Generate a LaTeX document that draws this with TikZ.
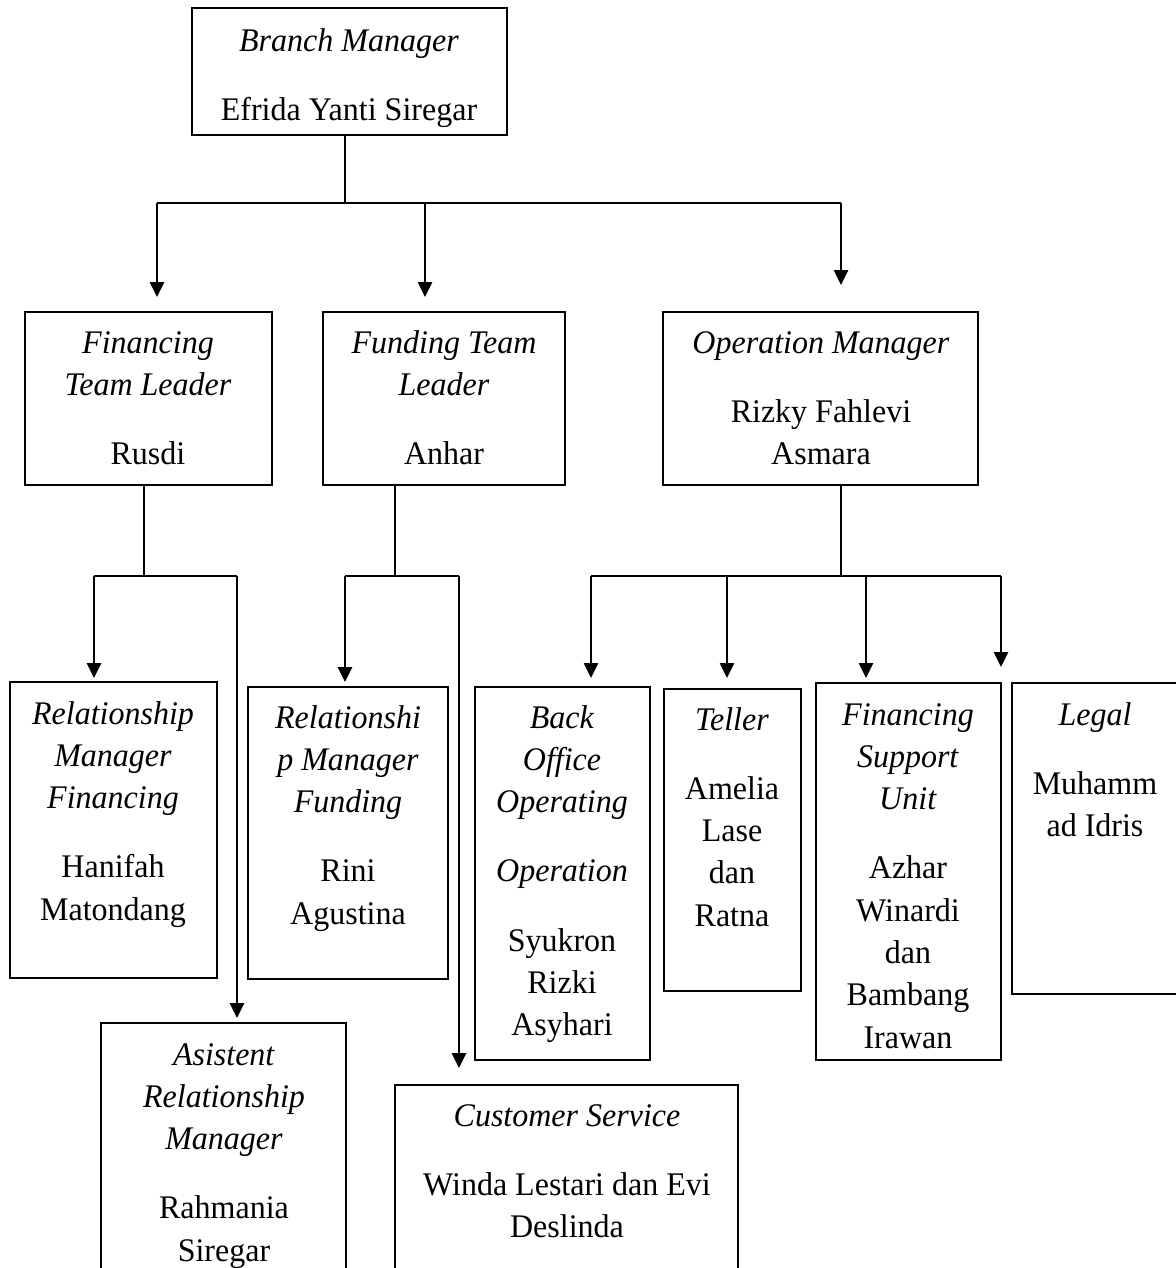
\documentclass[tikz,border=0pt]{standalone}
\usepackage{fontspec}
\setmainfont{Liberation Serif}[FakeStretch=0.97]
\usetikzlibrary{arrows.meta,fit}
\newcommand{\pg}{13.5pt}
\begin{document}
\begin{tikzpicture}[x=0.5pt,y=-0.5pt,
  box/.style={draw, line width=0.9pt, inner sep=0pt},
  lbl/.style={anchor=north, inner sep=0pt, align=center, font=\fontsize{16.5pt}{21.15pt}\selectfont},
  conn/.style={line width=0.9pt},
  arr/.style={line width=1.3pt, -{Triangle[length=7.5pt,width=7pt]}}]
\useasboundingbox (0,0) rectangle (1176,1268);
\clip (0,0) rectangle (1176,1268);
\fill[white] (0,0) rectangle (1176,1268);
% boxes
\node[box, fit={(192,8) (507,135)}] (bm) {};
\node[box, fit={(25,312) (272,485)}] (ftl) {};
\node[box, fit={(323,312) (565,485)}] (fun) {};
\node[box, fit={(663,312) (978,485)}] (om) {};
\node[box, fit={(10,682) (217,978)}] (rmf) {};
\node[box, fit={(248,687) (448,979)}] (rmd) {};
\node[box, fit={(475,687) (650,1060)}] (bo) {};
\node[box, fit={(664,689) (801,991)}] (tel) {};
\node[box, fit={(816,683) (1001,1060)}] (fsu) {};
\node[box, fit={(1012,683) (1190,994)}] (leg) {};
\node[box, fit={(101,1023) (346,1300)}] (arm) {};
\node[box, fit={(395,1085) (738,1300)}] (cs) {};
% texts
\node[lbl] (bm-t) at (349,21) {\strut\textit{Branch Manager}\\[\pg]Efrida Yanti Siregar};
\node[lbl] (ftl-t) at (148,323) {\strut\textit{Financing}\\\textit{Team Leader}\\[\pg]Rusdi};
\node[lbl] (fun-t) at (444,323) {\strut\textit{Funding Team}\\\textit{Leader}\\[\pg]Anhar};
\node[lbl] (om-t) at (821,323) {\strut\textit{Operation Manager}\\[\pg]Rizky Fahlevi\\Asmara};
\node[lbl] (rmf-t) at (113,694) {\strut\textit{Relationship}\\\textit{Manager}\\\textit{Financing}\\[\pg]Hanifah\\Matondang};
\node[lbl] (rmd-t) at (348,698) {\strut\textit{Relationshi}\\\textit{p Manager}\\\textit{Funding}\\[\pg]Rini\\Agustina};
\node[lbl] (bo-t) at (562,698) {\strut\textit{Back}\\\textit{Office}\\\textit{Operating}\\[\pg]\textit{Operation}\\[\pg]Syukron\\Rizki\\Asyhari};
\node[lbl] (tel-t) at (732,700) {\strut\textit{Teller}\\[\pg]Amelia\\Lase\\dan\\Ratna};
\node[lbl] (fsu-t) at (908,695) {\strut\textit{Financing}\\\textit{Support}\\\textit{Unit}\\[\pg]Azhar\\Winardi\\dan\\Bambang\\Irawan};
\node[lbl] (leg-t) at (1095,695) {\strut\textit{Legal}\\[\pg]Muhamm\\ad Idris};
\node[lbl] (arm-t) at (224,1035) {\strut\textit{Asistent}\\\textit{Relationship}\\\textit{Manager}\\[\pg]Rahmania\\Siregar};
\node[lbl] (cs-t) at (567,1096) {\strut\textit{Customer Service}\\[\pg]Winda Lestari dan Evi\\Deslinda};
% junctions and arrow tips
\coordinate (j0) at (345,203);
\coordinate (a1) at (157,297);
\coordinate (a2) at (425,297);
\coordinate (a3) at (841,285);
\coordinate (j1) at (144,576);
\coordinate (t11) at (94,678);
\coordinate (t12) at (237,1018);
\coordinate (j2) at (395,576);
\coordinate (t21) at (345,682);
\coordinate (t22) at (459,1068);
\coordinate (j3) at (841,576);
\coordinate (t31) at (591,678);
\coordinate (t32) at (727,678);
\coordinate (t33) at (866,678);
\coordinate (t34) at (1001,667);
% top level
\draw[conn] (bm.south -| j0) -- (j0);
\draw[conn] (a1 |- j0) -- (a3 |- j0);
\draw[arr] (a1 |- j0) -- (a1);
\draw[arr] (a2 |- j0) -- (a2);
\draw[arr] (a3 |- j0) -- (a3);
% financing group
\draw[conn] (ftl.south -| j1) -- (j1);
\draw[conn] (t11 |- j1) -- (t12 |- j1);
\draw[arr] (t11 |- j1) -- (t11);
\draw[arr] (t12 |- j1) -- (t12);
% funding group
\draw[conn] (fun.south -| j2) -- (j2);
\draw[conn] (t21 |- j2) -- (t22 |- j2);
\draw[arr] (t21 |- j2) -- (t21);
\draw[arr] (t22 |- j2) -- (t22);
% operation group
\draw[conn] (om.south -| j3) -- (j3);
\draw[conn] (t31 |- j3) -- (t34 |- j3);
\draw[arr] (t31 |- j3) -- (t31);
\draw[arr] (t32 |- j3) -- (t32);
\draw[arr] (t33 |- j3) -- (t33);
\draw[arr] (t34 |- j3) -- (t34);
\end{tikzpicture}
\end{document}
